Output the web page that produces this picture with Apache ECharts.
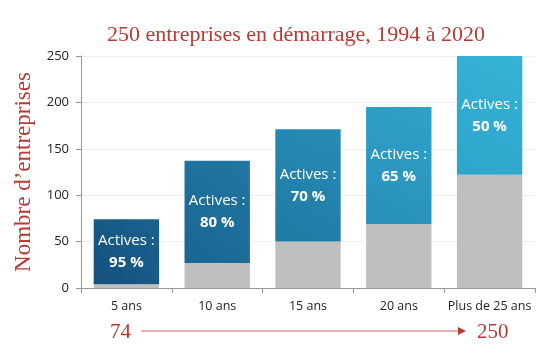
<!DOCTYPE html>
<html><head><meta charset="utf-8">
<script src="https://cdn.jsdelivr.net/npm/echarts@6/dist/echarts.min.js"></script>
<style>html,body{margin:0;padding:0;background:#fff}#c{width:555px;height:364px}</style>
</head><body><div id="c"></div>
<script>
var categories = ['5 ans', '10 ans', '15 ans', '20 ans', 'Plus de 25 ans'];
var inactive = [4, 27, 50, 69, 122];
var active = [70, 110, 121, 126, 128];
var activePct = ['95 %', '80 %', '70 %', '65 %', '50 %'];
var totals = [74, 137, 171, 195, 250];
var barColors = [['#14507d', '#1b6291'], ['#1a6593', '#2077a2'], ['#2079a3', '#268cb6'], ['#288fba', '#2fa2c8'], ['#2ea5cc', '#34b3d6']];

var chart = echarts.init(document.getElementById('c'));
var serif = '"Liberation Serif", "DejaVu Serif", serif';
var sans = '"Open Sans", sans-serif';
var red = '#b83a33';
chart.setOption({
  animation: false,
  title: {
    text: '250 entreprises en démarrage, 1994 à 2020',
    left: 291, top: 19, textAlign: 'center',
    textStyle: {fontFamily: serif, fontWeight: 'normal', fontSize: 22, color: red}
  },
  grid: {left: 81, right: 20, top: 56, bottom: 76},
  xAxis: {
    type: 'category', data: categories,
    axisLine: {lineStyle: {color: '#999'}},
    axisTick: {show: true, alignWithLabel: false, lineStyle: {color: '#999'}, length: 5},
    axisLabel: {interval: 0, color: '#222', fontSize: 12.5, fontFamily: sans, margin: 12}
  },
  yAxis: {
    type: 'value', min: 0, max: 250, interval: 50,
    name: 'Nombre d\u2019entreprises', nameLocation: 'middle', nameGap: 46,
    nameTextStyle: {fontFamily: serif, fontSize: 23, color: red},
    axisLine: {show: true, lineStyle: {color: '#999'}},
    axisTick: {show: true, lineStyle: {color: '#999'}, length: 5},
    axisLabel: {color: '#222', fontSize: 13, fontFamily: sans, margin: 12},
    splitLine: {lineStyle: {color: '#eeeeee'}}
  },
  series: [
    {
      type: 'bar', stack: 'a', barWidth: '72%',
      data: inactive,
      itemStyle: {color: '#bfbfbf'}
    },
    {
      type: 'bar', stack: 'a',
      data: active.map(function (v, i) {
        return {
          value: v,
          itemStyle: {color: new echarts.graphic.LinearGradient(0, 1, 1, 0, [
            {offset: 0, color: barColors[i][0]}, {offset: 1, color: barColors[i][1]}])}
        };
      }),
      label: {
        show: true, position: 'inside',
        formatter: function (p) { return '{a|Actives :}\n{b|' + activePct[p.dataIndex] + '}'; },
        rich: {
          a: {color: '#fff', fontSize: 15, fontFamily: sans, lineHeight: 22, align: 'center'},
          b: {color: '#fff', fontSize: 15, fontWeight: 'bold', fontFamily: sans, lineHeight: 22, align: 'center'}
        }
      }
    }
  ],
  graphic: [
    {type: 'text', left: 110, top: 322, style: {text: String(totals[0]), font: '21px ' + serif, fill: red}},
    {type: 'text', left: 477, top: 322, style: {text: String(totals[totals.length - 1]), font: '21px ' + serif, fill: red}},
    {type: 'line', shape: {x1: 141, y1: 331, x2: 460, y2: 331}, style: {stroke: '#c9605a', lineWidth: 1}},
    {type: 'polygon', shape: {points: [[458, 327], [466, 331], [458, 335]]}, style: {fill: '#b83a33'}}
  ]
});
</script></body></html>
